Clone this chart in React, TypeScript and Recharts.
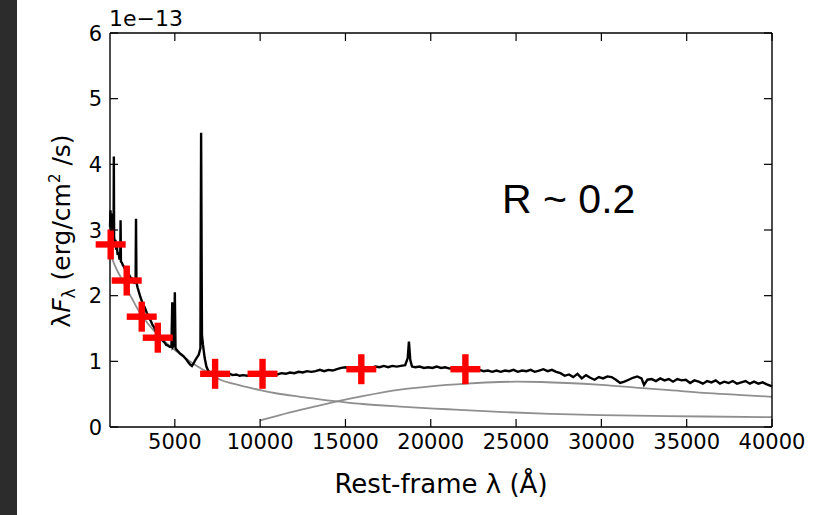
import React from "react";
import { ComposedChart, Line, Scatter, XAxis, YAxis } from "recharts";

// Spectrum (rest-frame wavelength in Å, lambda*F_lambda in units of 1e-13 erg/cm^2/s)
const specWave = [
  1200, 1230, 1260, 1290, 1320, 1350, 1380, 1410, 1425, 1440, 1480, 1520, 1560, 1600, 1650, 1700, 1760, 1800, 1820, 1840,
  1900, 1960, 2020, 2080, 2150, 2220, 2300, 2380, 2460, 2540, 2620, 2700, 2725, 2750, 2820, 2900, 2980, 3060, 3140, 3220,
  3300, 3380, 3460, 3540, 3620, 3700, 3780, 3860, 3940, 4020, 4100, 4180, 4260, 4340, 4420, 4500, 4600, 4700, 4800, 4850,
  4880, 4960, 5000, 5040, 5120, 5200, 5300, 5400, 5500, 5600, 5700, 5800, 5900, 6000, 6100, 6200, 6300, 6400, 6500, 6540,
  6590, 6650, 6750, 6850, 6950, 7050, 7200, 7400, 7600, 7800, 8000, 8200, 8400, 8600, 8800, 9000, 9250, 9500, 9750, 10000,
  10250, 10500, 10750, 11000, 11250, 11500, 11750, 12000, 12250, 12500, 12750, 13000, 13250, 13500, 13750, 14000, 14250,
  14500, 14750, 15000, 15250, 15500, 15750, 16000, 16250, 16500, 16750, 17000, 17250, 17500, 17750, 18000, 18250, 18500,
  18650, 18720, 18800, 18900, 19100, 19350, 19600, 19850, 20100, 20350, 20600, 20850, 21100, 21350, 21600, 21850, 22100,
  22350, 22600, 22850, 23100, 23350, 23600, 23850, 24100, 24350, 24600, 24850, 25100, 25350, 25600, 25850, 26100, 26350,
  26600, 26850, 27100, 27350, 27600, 27850, 28100, 28350, 28600, 28850, 29100, 29350, 29600, 29850, 30100, 30350, 30600,
  30850, 31100, 31350, 31600, 31850, 32100, 32350, 32500, 32700, 32950, 33200, 33450, 33700, 33950, 34200, 34450, 34700,
  34950, 35200, 35450, 35700, 35950, 36200, 36450, 36700, 36950, 37200, 37450, 37700, 37950, 38200, 38450, 38700, 38950,
  39200, 39450, 39700, 40000,
];
const specFlux = [
  3.05, 3.3, 2.95, 3.25, 2.9, 3.15, 2.85, 2.95, 4.12, 2.9, 2.8, 2.85, 2.7, 2.75, 2.62, 2.66, 2.55, 2.58, 3.15, 2.52,
  2.5, 2.46, 2.44, 2.4, 2.38, 2.34, 2.33, 2.28, 2.27, 2.24, 2.2, 2.22, 3.17, 2.2, 2.12, 2.05, 1.98, 1.92, 1.86, 1.83,
  1.78, 1.72, 1.7, 1.64, 1.6, 1.55, 1.52, 1.47, 1.44, 1.4, 1.37, 1.35, 1.32, 1.3, 1.28, 1.25, 1.24, 1.22, 1.22, 1.9,
  1.22, 1.25, 2.05, 1.2, 1.17, 1.15, 1.12, 1.1, 1.08, 1.05, 1.02, 0.98, 0.95, 0.93, 0.97, 1.02, 1.06, 1.1, 1.2, 4.48,
  1.4, 1.25, 1.05, 0.92, 0.86, 0.83, 0.81, 0.8, 0.81, 0.82, 0.8, 0.81, 0.79, 0.8, 0.78, 0.79, 0.78, 0.79, 0.78, 0.79,
  0.8, 0.79, 0.81, 0.8, 0.82, 0.81, 0.83, 0.82, 0.84, 0.83, 0.85, 0.84, 0.85, 0.87, 0.85, 0.87, 0.86,
  0.88, 0.9, 0.91, 0.89, 0.9, 0.88, 0.89, 0.91, 0.9, 0.92, 0.91, 0.93, 0.91, 0.93, 0.92, 0.93, 0.94,
  1.05, 1.3, 1.02, 0.92, 0.91, 0.92, 0.9, 0.91, 0.9, 0.92, 0.9, 0.91, 0.89, 0.9, 0.88, 0.89, 0.87,
  0.88, 0.86, 0.87, 0.85, 0.86, 0.84, 0.86, 0.84, 0.86, 0.85, 0.87, 0.84, 0.86, 0.85, 0.87, 0.84, 0.86,
  0.88, 0.85, 0.87, 0.84, 0.82, 0.78, 0.8, 0.76, 0.81, 0.74, 0.79, 0.75, 0.72, 0.76, 0.74, 0.77, 0.76,
  0.72, 0.67, 0.69, 0.72, 0.75, 0.77, 0.74, 0.64, 0.72, 0.73, 0.7, 0.74, 0.71, 0.73, 0.69, 0.73, 0.71,
  0.72, 0.67, 0.71, 0.69, 0.66, 0.7, 0.68, 0.71, 0.66, 0.69, 0.67, 0.7, 0.66, 0.68, 0.7, 0.66, 0.69,
  0.66, 0.68, 0.65, 0.62,
];

// Power-law (accretion disk) component
const plWave = [1200, 1500, 2000, 2500, 3000, 3500, 4000, 4500, 5000, 6000, 7000, 7660, 8420, 9200, 10000, 11000, 12350, 13500, 14700, 16000, 18200, 21000, 24000, 27000, 30000, 33000, 36000, 40000];
const plFlux = [2.65, 2.45, 2.2, 1.95, 1.72, 1.55, 1.4, 1.28, 1.17, 0.98, 0.82, 0.72, 0.66, 0.61, 0.56, 0.51, 0.46, 0.42, 0.385, 0.35, 0.31, 0.27, 0.23, 0.2, 0.18, 0.17, 0.16, 0.15];

// Hot dust (blackbody) component
const bbWave = [10000, 11000, 12350, 13500, 14700, 16000, 18200, 20000, 22100, 24000, 25000, 26500, 28000, 30000, 32000, 34000, 36000, 38000, 40000];
const bbFlux = [0.1, 0.17, 0.26, 0.33, 0.4, 0.47, 0.57, 0.62, 0.66, 0.685, 0.69, 0.685, 0.67, 0.64, 0.6, 0.56, 0.52, 0.49, 0.46];

// Photometric points
const photWave = [1240, 2180, 3060, 4000, 7360, 10140, 15930, 22030];
const photFlux = [2.78, 2.23, 1.68, 1.36, 0.81, 0.81, 0.88, 0.88];

const xTicks = [5000, 10000, 15000, 20000, 25000, 30000, 35000, 40000];
const yTicks = [0, 1, 2, 3, 4, 5, 6];

const spectrum = specWave.map((w, i) => ({ x: w, y: specFlux[i] }));
const powerLaw = plWave.map((w, i) => ({ x: w, y: plFlux[i] }));
const blackBody = bbWave.map((w, i) => ({ x: w, y: bbFlux[i] }));
const phot = photWave.map((w, i) => ({ x: w, y: photFlux[i] }));

const FONT = "'DejaVu Sans', sans-serif";
const TICK = 8;

const BottomTick = (p: any) => (
  <g>
    <line x1={p.x} y1={p.y} x2={p.x} y2={p.y - TICK} stroke="#000" strokeWidth={1.2} />
    <text x={p.x} y={p.y + 22} textAnchor="middle" fontFamily={FONT} fontSize={21} fill="#000">
      {p.payload.value}
    </text>
  </g>
);
const TopTick = (p: any) => (
  <line x1={p.x} y1={p.y} x2={p.x} y2={p.y + TICK} stroke="#000" strokeWidth={1.2} />
);
const LeftTick = (p: any) => (
  <g>
    <line x1={p.x} y1={p.y} x2={p.x + TICK} y2={p.y} stroke="#000" strokeWidth={1.2} />
    <text x={p.x - 8} y={p.y} dy="0.36em" textAnchor="end" fontFamily={FONT} fontSize={21} fill="#000">
      {p.payload.value}
    </text>
  </g>
);
const RightTick = (p: any) => (
  <line x1={p.x} y1={p.y} x2={p.x - TICK} y2={p.y} stroke="#000" strokeWidth={1.2} />
);

const Plus = (p: any) => {
  const { cx, cy } = p;
  if (cx == null || cy == null) return null;
  const h = 15;
  const t = 3.2;
  return (
    <g fill="#ff0000">
      <rect x={cx - h} y={cy - t} width={2 * h} height={2 * t} />
      <rect x={cx - t} y={cy - h} width={2 * t} height={2 * h} />
    </g>
  );
};

export default function App() {
  const axisLine = { stroke: "#000", strokeWidth: 1.4 };
  return (
    <div style={{ position: "absolute", left: 0, top: 0, width: 827, height: 515, background: "#fff" }}>
      <div style={{ position: "absolute", left: 0, top: 0, width: 17, height: 515, background: "#2c2c2c" }} />
      <ComposedChart
        width={827}
        height={515}
        margin={{ top: 32, right: 54, bottom: 58, left: 0 }}
        style={{ position: "absolute", left: 0, top: 0 }}
      >
        <XAxis
          xAxisId="b"
          dataKey="x"
          type="number"
          domain={[1200, 40000]}
          ticks={xTicks}
          interval={0}
          height={30}
          tickSize={0}
          tickMargin={0}
          tickLine={false}
          axisLine={axisLine}
          tick={BottomTick}
        />
        <XAxis
          xAxisId="t"
          orientation="top"
          dataKey="x"
          type="number"
          domain={[1200, 40000]}
          ticks={xTicks}
          interval={0}
          height={1}
          tickSize={0}
          tickMargin={0}
          tickLine={false}
          axisLine={axisLine}
          tick={TopTick}
        />
        <YAxis
          yAxisId="l"
          type="number"
          domain={[0, 6]}
          ticks={yTicks}
          interval={0}
          width={110}
          tickSize={0}
          tickMargin={0}
          tickLine={false}
          axisLine={axisLine}
          tick={LeftTick}
        />
        <YAxis
          yAxisId="r"
          orientation="right"
          type="number"
          domain={[0, 6]}
          ticks={yTicks}
          interval={0}
          width={1}
          tickSize={0}
          tickMargin={0}
          tickLine={false}
          axisLine={axisLine}
          tick={RightTick}
        />
        <Line xAxisId="b" yAxisId="l" data={powerLaw} dataKey="y" type="monotone" stroke="#8f8f8f" strokeWidth={1.8} dot={false} isAnimationActive={false} />
        <Line xAxisId="t" yAxisId="r" data={blackBody} dataKey="y" type="monotone" stroke="#8f8f8f" strokeWidth={1.8} dot={false} isAnimationActive={false} />
        <Line xAxisId="b" yAxisId="l" data={spectrum} dataKey="y" type="linear" stroke="#000" strokeWidth={2.4} dot={false} isAnimationActive={false} />
        <Scatter xAxisId="b" yAxisId="l" data={phot} dataKey="y" fill="#ff0000" shape={Plus} isAnimationActive={false} />
      </ComposedChart>
      <svg width={827} height={515} style={{ position: "absolute", left: 0, top: 0, pointerEvents: "none" }}>
        <text x={109} y={26} fontFamily={FONT} fontSize={22} fill="#000">1e−13</text>
        <text x={502} y={213} fontFamily="'Liberation Sans', Arial, sans-serif" fontSize={41} fill="#000">R ~ 0.2</text>
        <text x={441} y={493} textAnchor="middle" fontFamily={FONT} fontSize={26} fill="#000">
          Rest-frame λ (Å)
        </text>
        <text
          transform="translate(70,231) rotate(-90)"
          textAnchor="middle"
          fontFamily={FONT}
          fontSize={25}
          fill="#000"
        >
          <tspan>λ</tspan>
          <tspan fontStyle="italic">F</tspan>
          <tspan fontSize={17} dy={5}>λ</tspan>
          <tspan dy={-5}> (erg/cm</tspan>
          <tspan fontSize={15} dy={-10}>2</tspan>
          <tspan dy={10}> /s)</tspan>
        </text>
      </svg>
    </div>
  );
}
